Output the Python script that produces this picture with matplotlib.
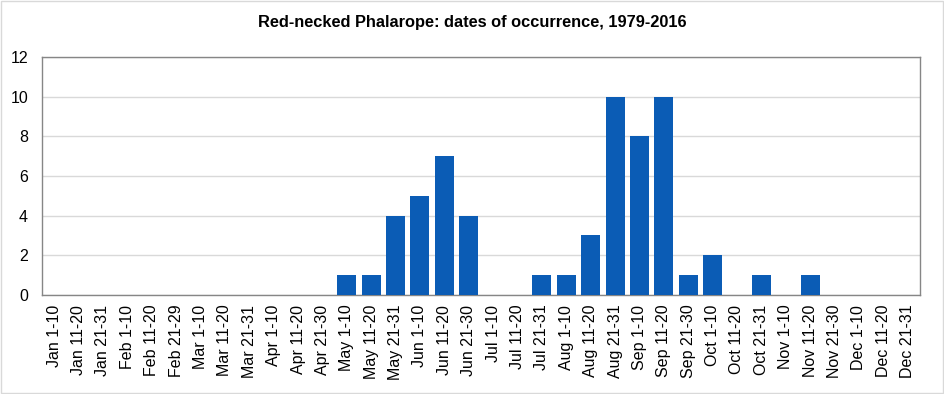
import matplotlib
matplotlib.use('Agg')
import matplotlib.pyplot as plt
from matplotlib.patches import Rectangle

plt.rcParams['font.family'] = ['Liberation Sans', 'DejaVu Sans']

# --------------------------------------------------
# data
months = ['Jan', 'Feb', 'Mar', 'Apr', 'May', 'Jun',
          'Jul', 'Aug', 'Sep', 'Oct', 'Nov', 'Dec']
last_day = ['31', '29', '31', '30', '31', '30', '31', '31', '30', '31', '30', '31']
periods = []
for m, d in zip(months, last_day):
    periods += [m + ' 1-10', m + ' 11-20', m + ' 21-' + d]

counts = [0, 0, 0,   # Jan
          0, 0, 0,   # Feb
          0, 0, 0,   # Mar
          0, 0, 0,   # Apr
          1, 1, 4,   # May
          5, 7, 4,   # Jun
          0, 0, 1,   # Jul
          1, 3, 10,  # Aug
          8, 10, 1,  # Sep
          2, 0, 1,   # Oct
          0, 1, 0,   # Nov
          0, 0, 0]   # Dec

title = 'Red-necked Phalarope: dates of occurrence, 1979-2016'

# --------------------------------------------------
fig = plt.figure(figsize=(9.45, 3.94), dpi=100, facecolor='white')
ax = fig.add_axes([0.0444, 0.2513, 0.929, 0.604])

x = range(len(periods))
ax.bar(x, counts, width=0.78, color='#0B5CB5', zorder=3)

ax.set_xlim(-0.5, len(periods) - 0.5)
ax.set_ylim(0, 12)
ax.set_yticks(range(0, 13, 2))
ax.yaxis.grid(True, color='#D9D9D9', lw=1, zorder=0)
ax.set_xticks(list(x))
ax.set_xticklabels(periods, rotation=90, fontsize=11.5)
ax.tick_params(axis='y', labelsize=11.5, length=0, pad=10)
ax.tick_params(axis='x', length=0, pad=7)

for s in ax.spines.values():
    s.set_color('#868686')
    s.set_linewidth(1)

fig.text(0.5, 0.942, title, ha='center', va='center', fontsize=11.8,
         fontweight='bold')

# light frame around the whole chart
fig.patches.append(Rectangle((0.001, 0.002), 0.997, 0.995, transform=fig.transFigure,
                             fill=False, edgecolor='#D9D9D9', lw=1))

plt.savefig('out.png', dpi=100)
